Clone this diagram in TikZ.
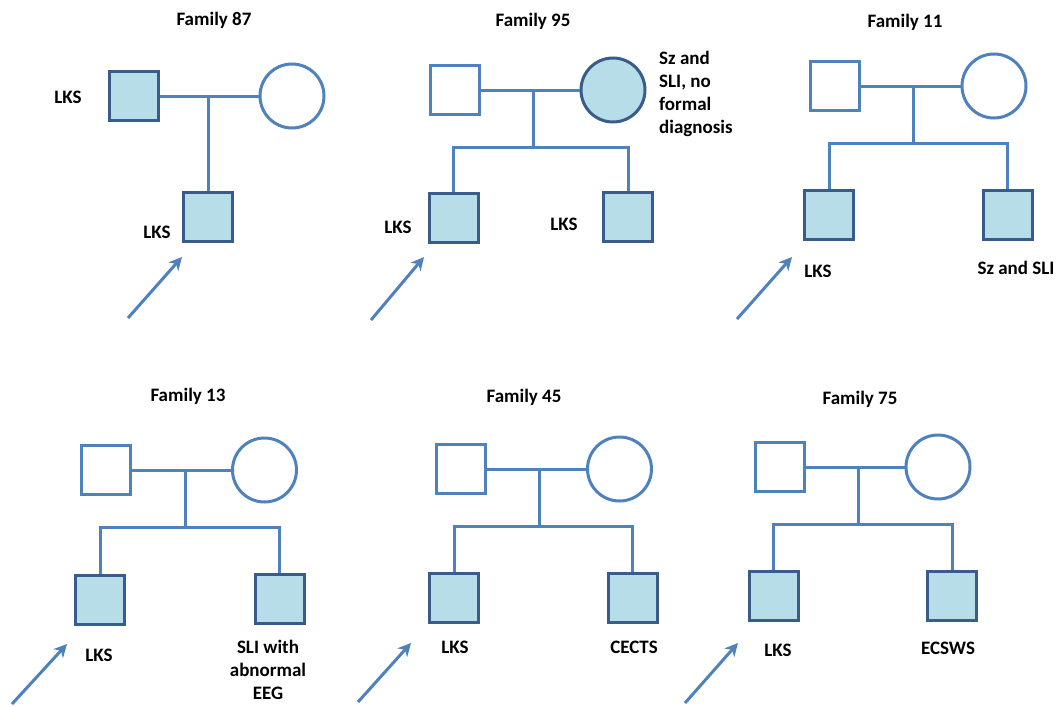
\documentclass[tikz,border=0pt]{standalone}
\usepackage{fontspec}
\setmainfont{Carlito}
\usetikzlibrary{arrows.meta}
\usetikzlibrary{positioning}

\definecolor{lineblue}{HTML}{4F81BD}
\definecolor{fillblue}{HTML}{B7DDE8}
\definecolor{edgeblue}{HTML}{385D8A}

\tikzset{
  male/.style={rectangle,draw=lineblue,line width=3pt,fill=white,minimum size=49pt,inner sep=0pt},
  affmale/.style={male,draw=edgeblue,fill=fillblue},
  female/.style={circle,draw=lineblue,line width=3pt,fill=white,minimum size=64pt,inner sep=0pt},
  afffemale/.style={female,draw=edgeblue,fill=fillblue},
  rel/.style={draw=lineblue,line width=3pt},
  proband/.style={draw=lineblue,line width=3pt,-{Stealth[length=13pt,width=13pt,inset=4pt]}},
  lab/.style={font=\bfseries\fontsize{19}{23}\selectfont,inner sep=0pt,align=center},
}

\begin{document}
\begin{tikzpicture}[x=1pt,y=-1pt]
\useasboundingbox (0,0) rectangle (1061,707);

\node[lab] (t87) at (214,20) {Family 87};
\node[affmale] (f87) at (134,96) {};
\node[female] (m87) at (292,96) {};
\node[affmale] (a87) at (208,216.5) {};
\draw[rel] (f87) -- (m87);
\draw[rel] (a87.north |- f87) -- (a87.north);
\node[lab] (l87f) at (68,97) {LKS};
\node[lab] (l87a) at (157,232) {LKS};
\coordinate (p87) at (128,318);
\coordinate (q87) at (182,257);
\draw[proband] (p87) -- (q87);

\node[lab] (t95) at (533,21) {Family 95};
\node[male] (f95) at (454.5,90) {};
\node[afffemale] (m95) at (613,90) {};
\node[affmale] (a95) at (453.5,217.5) {};
\node[affmale] (b95) at (628,216.5) {};
\coordinate (s95) at (533,147);
\draw[rel] (f95) -- (m95);
\draw[rel] (s95 |- f95) -- (s95);
\draw[rel] (a95.north) |- (s95) -| (b95.north);
\node[lab,anchor=west,align=left] (l95m) at (659,94) {Sz and\\SLI, no\\formal\\diagnosis};
\node[lab] (l95a) at (398,227) {LKS};
\node[lab] (l95b) at (564,224) {LKS};
\coordinate (p95) at (371,320);
\coordinate (q95) at (424,257);
\draw[proband] (p95) -- (q95);

\node[lab] (t11) at (905,22) {Family 11};
\node[male] (f11) at (834.5,86) {};
\node[female] (m11) at (994,86) {};
\node[affmale] (a11) at (829,215) {};
\node[affmale] (b11) at (1007.5,215) {};
\coordinate (s11) at (913,143);
\draw[rel] (f11) -- (m11);
\draw[rel] (s11 |- f11) -- (s11);
\draw[rel] (a11.north) |- (s11) -| (b11.north);
\node[lab] (l11a) at (818,271) {LKS};
\node[lab] (l11b) at (1016,268) {Sz and SLI};
\coordinate (p11) at (737,319);
\coordinate (q11) at (792,257);
\draw[proband] (p11) -- (q11);

\node[lab] (t13) at (188,396) {Family 13};
\node[male] (f13) at (106,470) {};
\node[female] (m13) at (264.5,470) {};
\node[affmale] (a13) at (100,599.5) {};
\node[affmale] (b13) at (279.5,599) {};
\coordinate (s13) at (185,527);
\draw[rel] (f13) -- (m13);
\draw[rel] (s13 |- f13) -- (s13);
\draw[rel] (a13.north) |- (s13) -| (b13.north);
\node[lab] (l13a) at (99,655) {LKS};
\node[lab] (l13b) at (268,670) {SLI with\\abnormal\\EEG};
\coordinate (p13) at (12,704);
\coordinate (q13) at (67,644);
\draw[proband] (p13) -- (q13);

\node[lab] (t45) at (524,397) {Family 45};
\node[male] (f45) at (461,469) {};
\node[female] (m45) at (619.5,469) {};
\node[affmale] (a45) at (454,598) {};
\node[affmale] (b45) at (632.5,597.5) {};
\coordinate (s45) at (539,526);
\draw[rel] (f45) -- (m45);
\draw[rel] (s45 |- f45) -- (s45);
\draw[rel] (a45.north) |- (s45) -| (b45.north);
\node[lab] (l45a) at (455,647) {LKS};
\node[lab] (l45b) at (634,647) {CECTS};
\coordinate (p45) at (358,702);
\coordinate (q45) at (411,643);
\draw[proband] (p45) -- (q45);

\node[lab] (t75) at (860,399) {Family 75};
\node[male] (f75) at (779.5,467) {};
\node[female] (m75) at (938,467) {};
\node[affmale] (a75) at (773.5,596) {};
\node[affmale] (b75) at (952,596) {};
\coordinate (s75) at (858,524);
\draw[rel] (f75) -- (m75);
\draw[rel] (s75 |- f75) -- (s75);
\draw[rel] (a75.north) |- (s75) -| (b75.north);
\node[lab] (l75a) at (778,650) {LKS};
\node[lab] (l75b) at (948,648) {ECSWS};
\coordinate (p75) at (685,703);
\coordinate (q75) at (738,643);
\draw[proband] (p75) -- (q75);

\end{tikzpicture}
\end{document}
